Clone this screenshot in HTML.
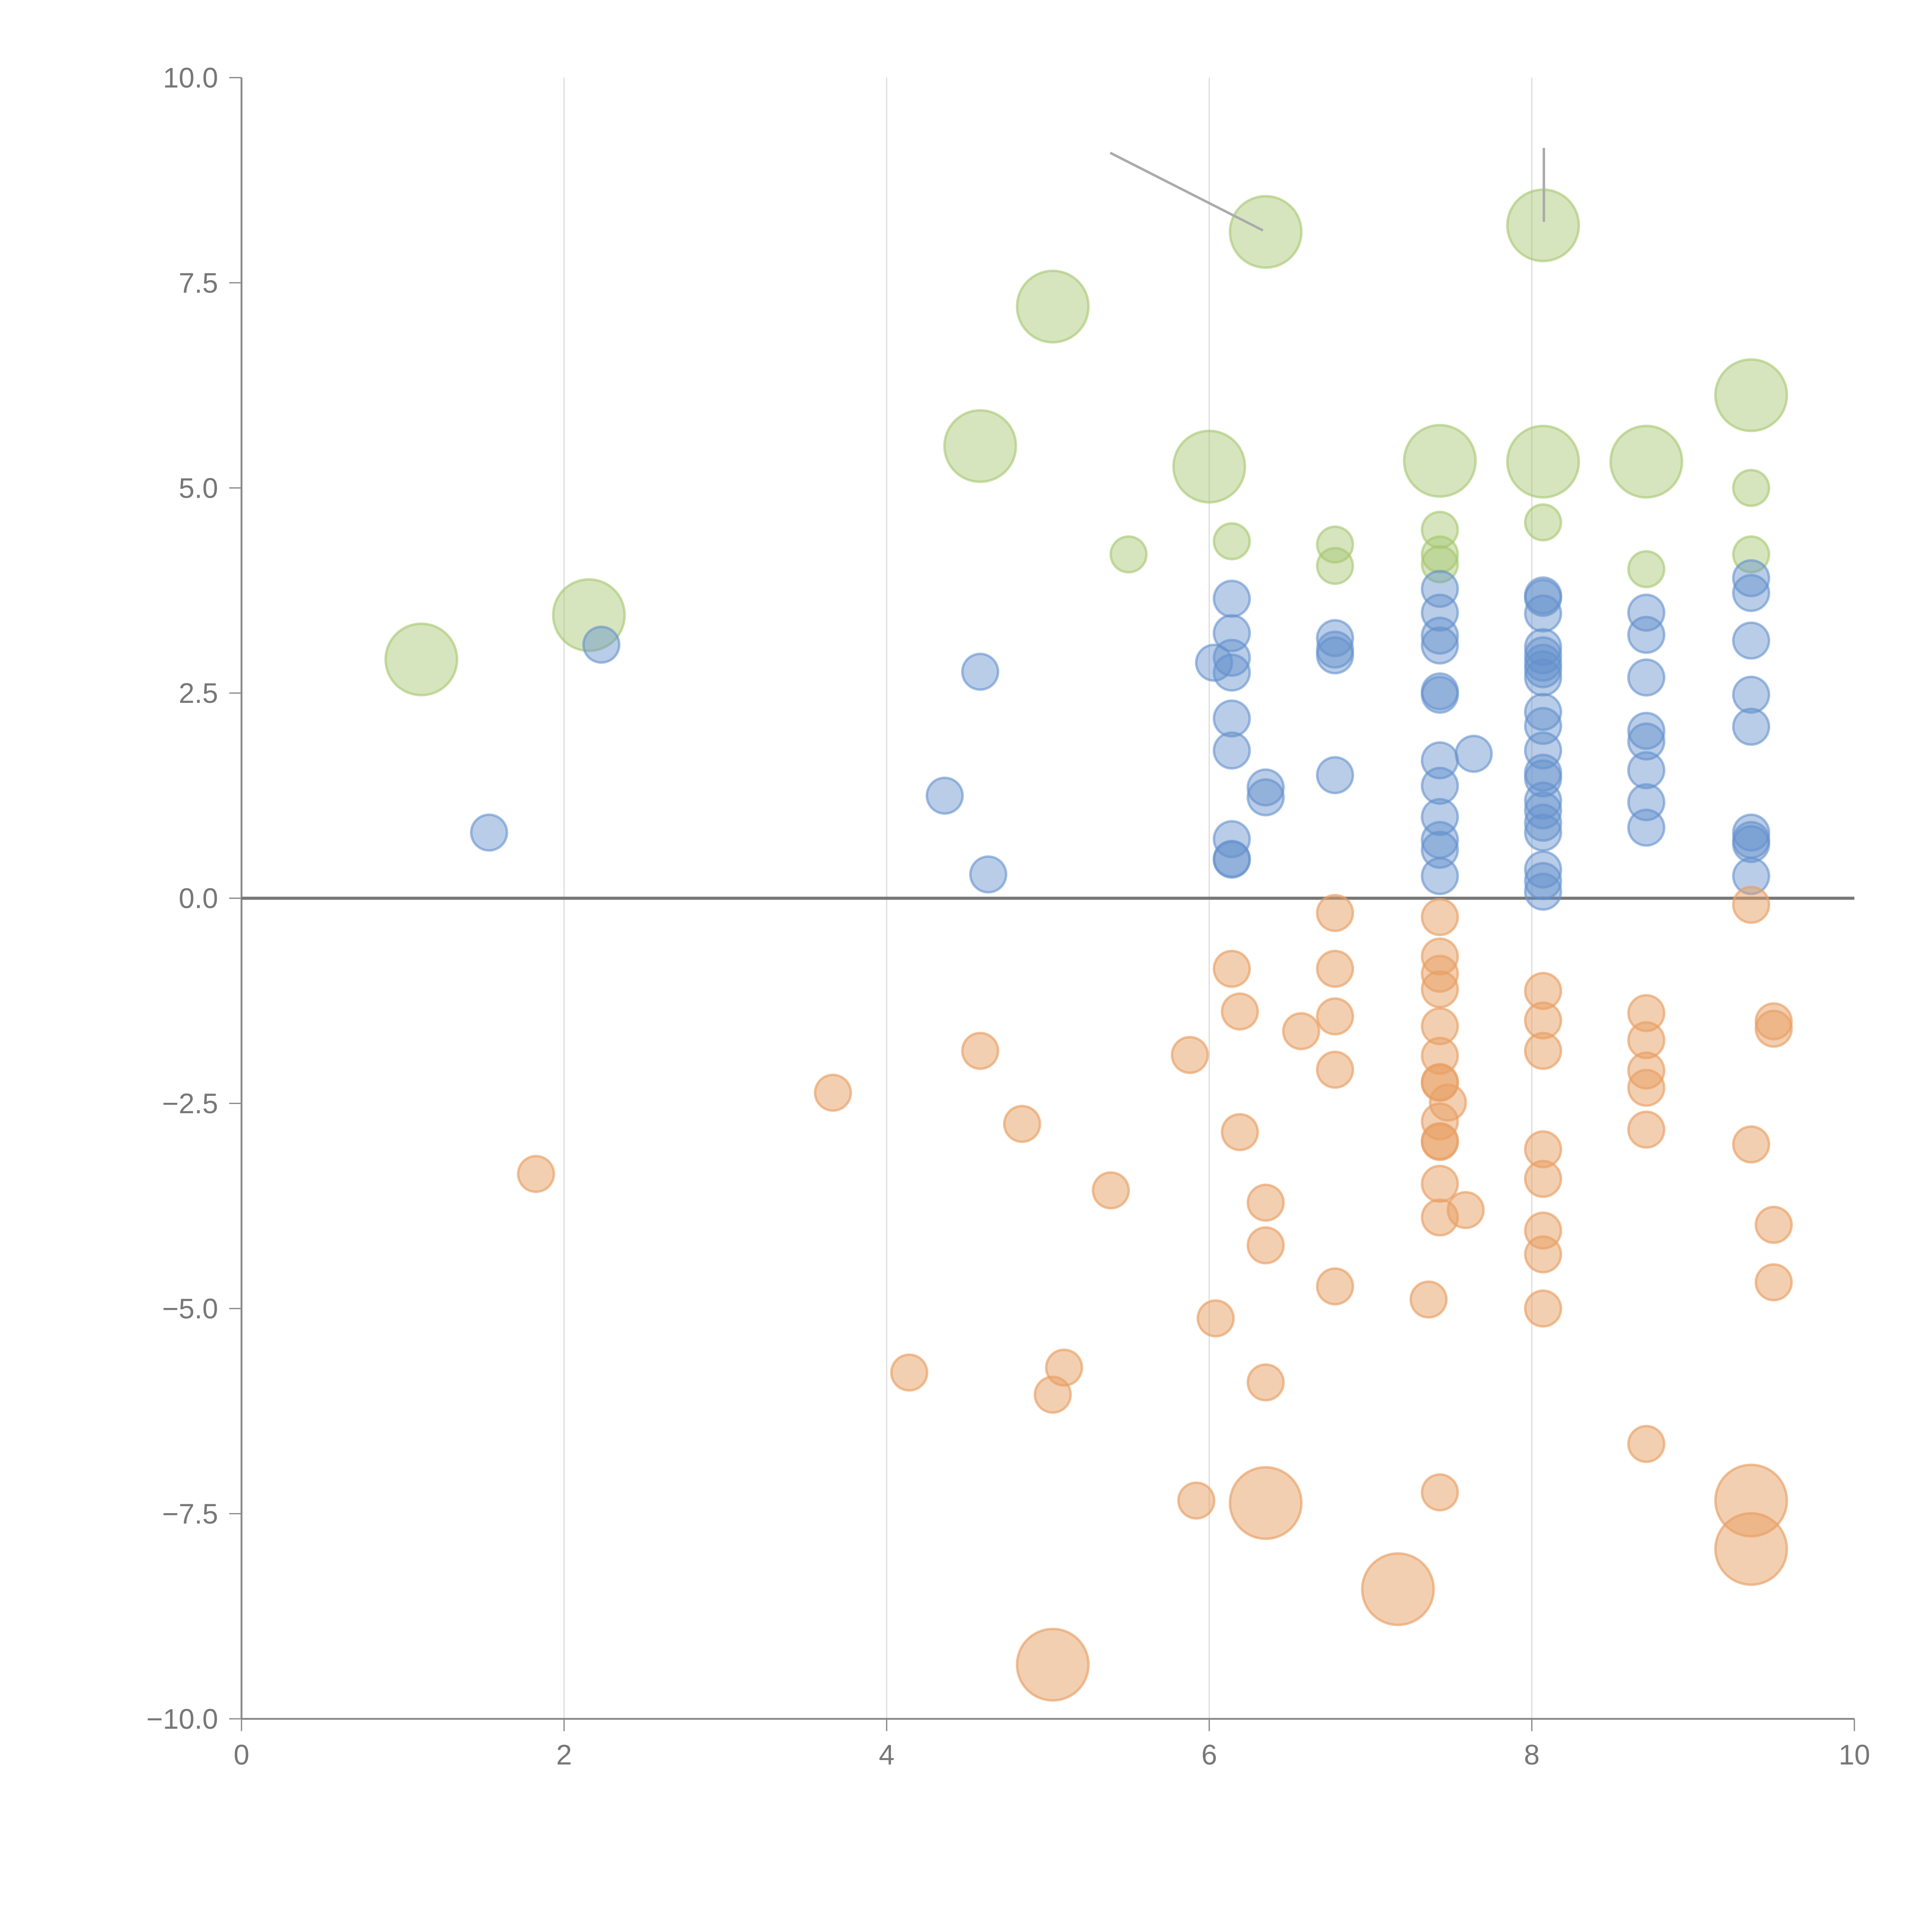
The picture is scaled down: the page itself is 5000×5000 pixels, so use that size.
<!DOCTYPE html>
<html><head><meta charset="utf-8"><style>
html,body{margin:0;padding:0;background:#fff;}
svg{display:block;}
text{font-family:"Liberation Sans",sans-serif;fill:#777;font-size:23px;}
</style></head><body>
<svg id="chart" width="5000" height="5000" viewBox="0 0 1568 1568" xmlns="http://www.w3.org/2000/svg">
<g id="grid"></g>
<g id="axes"></g>
<g id="marks"></g>
<line x1="901" y1="124" x2="1025" y2="187" stroke="#aaa" stroke-width="2"/>
<line x1="1253" y1="120" x2="1253" y2="180" stroke="#aaa" stroke-width="2"/>
</svg>
<script>
const xTicks=[0,2,4,6,8,10];
const yTicks=[-10,-7.5,-5,-2.5,0,2.5,5,7.5,10];
const greenX=[1.115,2.154,5.50,4.58,5.03,6.00,6.35,6.14,6.78,6.78,7.43,7.43,7.43,7.43,8.07,8.07,8.07,8.71,8.71,9.36,9.36,9.36];
const greenY=[2.91,3.45,4.19,5.51,7.21,5.26,8.12,4.35,4.31,4.05,5.33,4.49,4.19,4.07,8.20,5.32,4.58,5.32,4.01,6.13,5.00,4.19];
const greenZ=[4,4,1,4,4,4,4,1,1,1,4,1,1,1,4,4,1,4,1,4,1,1];
const blueX=[1.535,2.231,4.36,4.58,4.63,6.03,6.14,6.14,6.14,6.14,6.14,6.14,6.14,6.14,6.14,6.35,6.35,6.78,6.78,6.78,6.78,7.43,7.43,7.43,7.43,7.43,7.43,7.43,7.43,7.43,7.43,7.43,7.43,7.64,8.07,8.07,8.07,8.07,8.07,8.07,8.07,8.07,8.07,8.07,8.07,8.07,8.07,8.07,8.07,8.07,8.07,8.07,8.07,8.07,8.71,8.71,8.71,8.71,8.71,8.71,8.71,8.71,9.36,9.36,9.36,9.36,9.36,9.36,9.36,9.36,9.36];
const blueY=[0.80,3.09,1.25,2.76,0.29,2.87,3.65,3.23,2.93,2.75,2.19,1.80,0.72,0.48,0.47,1.35,1.23,3.17,3.03,2.96,1.50,3.77,3.48,3.20,3.08,2.52,2.48,1.68,1.37,0.99,0.71,0.59,0.27,1.76,3.69,3.66,3.47,3.06,2.96,2.87,2.79,2.69,2.27,2.10,1.80,1.53,1.46,1.19,1.07,0.92,0.80,0.35,0.21,0.08,3.48,3.21,2.69,2.04,1.91,1.56,1.17,0.86,3.90,3.72,3.14,2.48,2.09,0.80,0.71,0.66,0.27];
const orangeX=[1.826,3.667,4.14,4.58,4.84,5.03,5.10,5.03,5.39,5.88,5.92,6.04,6.14,6.19,6.19,6.35,6.35,6.35,6.35,6.57,6.78,6.78,6.78,6.78,6.78,7.17,7.36,7.43,7.43,7.43,7.43,7.43,7.43,7.43,7.43,7.43,7.43,7.43,7.43,7.43,7.43,7.48,7.59,8.07,8.07,8.07,8.07,8.07,8.07,8.07,8.07,8.71,8.71,8.71,8.71,8.71,8.71,9.36,9.36,9.36,9.36,9.50,9.50,9.50,9.50];
const orangeY=[-3.36,-2.37,-5.78,-1.86,-2.75,-6.05,-5.72,-9.34,-3.56,-1.91,-7.34,-5.12,-0.86,-1.38,-2.85,-3.71,-4.23,-5.90,-7.37,-1.62,-0.18,-0.86,-1.44,-2.09,-4.73,-8.42,-4.89,-0.23,-0.71,-0.92,-1.11,-1.56,-1.92,-2.24,-2.25,-2.72,-2.96,-2.97,-3.48,-3.89,-7.24,-2.49,-3.80,-1.13,-1.49,-1.86,-3.06,-3.42,-4.05,-4.34,-5.00,-1.40,-1.73,-2.10,-2.31,-2.82,-6.65,-0.08,-3.00,-7.34,-7.93,-1.50,-1.59,-3.98,-4.68];
const orangeZ=[1,1,1,1,1,1,1,4,1,1,1,1,1,1,1,1,1,1,4,1,1,1,1,1,1,4,1,1,1,1,1,1,1,1,1,1,1,1,1,1,1,1,1,1,1,1,1,1,1,1,1,1,1,1,1,1,1,1,1,4,4,1,1,1,1];

const NS='http://www.w3.org/2000/svg';
const X0=196,X1=1505,Y0=1395,Y1=63;
const xs=v=>X0+(v-0)/10*(X1-X0);
const ys=v=>Y0-(v+10)/20*(Y0-Y1);
const rs=z=>14.5*Math.sqrt(z);
function mk(tag,attrs,parent){const e=document.createElementNS(NS,tag);for(const k in attrs)e.setAttribute(k,attrs[k]);parent.appendChild(e);return e;}
const grid=document.getElementById('grid'),axes=document.getElementById('axes'),marks=document.getElementById('marks');
xTicks.forEach(t=>{
  if(t>0&&t<10){const l=mk('line',{x1:xs(t),x2:xs(t),y1:Y1,y2:Y0,stroke:'#ddd','stroke-width':1},grid);
  
  }
  const tk=mk('line',{x1:xs(t),x2:xs(t),y1:Y0,y2:Y0+10,stroke:'#888','stroke-width':1},axes);
  
  
  const tx=mk('text',{x:xs(t),y:Y0+37,'text-anchor':'middle'},axes);tx.textContent=String(t);
  
  
});
yTicks.forEach(t=>{
  const tk=mk('line',{x1:X0-10,x2:X0,y1:ys(t),y2:ys(t),stroke:'#888','stroke-width':1},axes);
  
  
  const tx=mk('text',{x:X0-19,y:ys(t)+8,'text-anchor':'end'},axes);tx.textContent=(t<0?'\u2212'+(-t).toFixed(1):t.toFixed(1));
  
  
});
const ya=mk('line',{x1:X0,x2:X0,y1:Y1,y2:Y0,stroke:'#888','stroke-width':1.5},axes);


const xa=mk('line',{x1:X0,x2:X1,y1:Y0,y2:Y0,stroke:'#888','stroke-width':1.5},axes);


const zl=mk('line',{x1:X0,x2:X1,y1:ys(0),y2:ys(0),stroke:'#777','stroke-width':2.5},axes);


function series(X,Y,Z,fill,stroke,name){
  X.forEach((x,i)=>{
    const c=mk('circle',{cx:xs(x),cy:ys(Y[i]),r:rs(Z?Z[i]:1),fill:fill,stroke:stroke,'stroke-width':2},marks);
    
    
  });
}
series(greenX,greenY,greenZ,'rgba(165,198,110,0.45)','rgba(165,198,110,0.6)','green-bubble');
series(blueX,blueY,null,'rgba(100,145,205,0.45)','rgba(100,145,205,0.6)','blue-bubble');
series(orangeX,orangeY,orangeZ,'rgba(232,160,100,0.5)','rgba(232,160,100,0.65)','orange-bubble');
</script>
</body></html>
